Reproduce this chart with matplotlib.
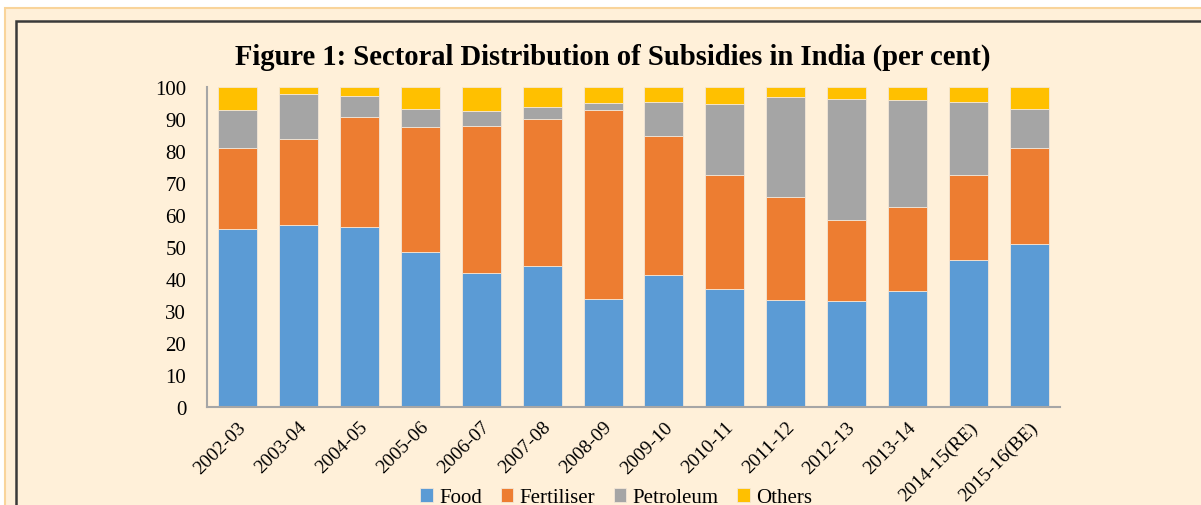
import matplotlib.pyplot as plt
from matplotlib.patches import Rectangle
import numpy as np

plt.rcParams['font.family'] = ['Liberation Serif', 'DejaVu Serif']

# Data (per cent shares)
years = ['2002-03', '2003-04', '2004-05', '2005-06', '2006-07', '2007-08',
         '2008-09', '2009-10', '2010-11', '2011-12', '2012-13', '2013-14',
         '2014-15(RE)', '2015-16(BE)']
food = [55.5, 56.9, 56.2, 48.5, 42.0, 44.2, 33.7, 41.4, 36.8, 33.3, 33.1, 36.2, 45.9, 51.0]
fertiliser = [25.3, 26.7, 34.5, 38.9, 45.9, 45.8, 59.0, 43.3, 35.8, 32.2, 25.4, 26.4, 26.7, 29.9]
petroleum = [12.0, 14.3, 6.4, 5.7, 4.7, 3.8, 2.3, 10.5, 22.2, 31.5, 37.8, 33.4, 22.6, 12.3]
others = [7.2, 2.1, 2.9, 6.9, 7.4, 6.2, 5.0, 4.8, 5.2, 3.0, 3.7, 4.0, 4.8, 6.8]

series = [('Food', food, '#5B9BD5'),
          ('Fertiliser', fertiliser, '#ED7D31'),
          ('Petroleum', petroleum, '#A5A5A5'),
          ('Others', others, '#FFC000')]

bg = '#FFF0D9'

fig = plt.figure(figsize=(12.01, 5.06), dpi=100)
fig.patch.set_facecolor('white')

# Outer cream panel and inner frame (cropped at right/bottom)
fig.patches.append(Rectangle((5 / 1201, -0.1), 1.2, 0.982 + 0.1, transform=fig.transFigure,
                             facecolor=bg, edgecolor='#F9D49A', linewidth=1.5, zorder=-10))
fig.patches.append(Rectangle((16 / 1201, -0.1), 1.2, 0.9565 + 0.1, transform=fig.transFigure,
                             facecolor=bg, edgecolor='#3A3A3A', linewidth=1.8, zorder=-9))

ax = fig.add_axes([207 / 1201, 1 - 408 / 506, (1060 - 207) / 1201, 320 / 506])
ax.set_facecolor('none')
ax.set_zorder(1)

x = np.arange(len(years))
bottom = np.zeros(len(years))
for name, vals, col in series:
    ax.bar(x, vals, width=0.64, bottom=bottom, color=col, label=name,
           edgecolor='#F3E6D6', linewidth=0.6)
    bottom += np.array(vals)

ax.set_xlim(-0.5, len(years) - 0.5)
ax.set_ylim(0, 100)
ax.set_yticks(range(0, 101, 10))
ax.set_xticks(x)
ax.set_xticklabels(years, rotation=45, ha='right', rotation_mode='anchor')
ax.tick_params(axis='both', length=0)
ax.tick_params(axis='y', pad=15, labelsize=15)
ax.tick_params(axis='x', pad=8, labelsize=14)

for s in ['top', 'right']:
    ax.spines[s].set_visible(False)
for s in ['left', 'bottom']:
    ax.spines[s].set_color('#A6A6A6')
    ax.spines[s].set_linewidth(1.5)

fig.text(0.51, 1 - 57 / 506, 'Figure 1: Sectoral Distribution of Subsidies in India (per cent)',
         ha='center', va='center', fontsize=20.6, fontweight='bold')

fig.legend(loc='center', bbox_to_anchor=(0.513, 0.014), ncol=4, frameon=False,
           fontsize=15, handlelength=0.6, handleheight=0.6, handletextpad=0.3,
           columnspacing=0.9)

fig.savefig('out.png', dpi=100, facecolor=fig.get_facecolor())
